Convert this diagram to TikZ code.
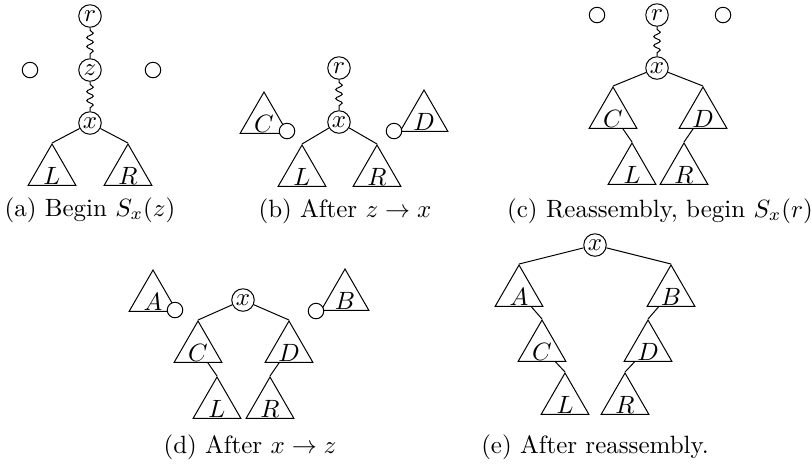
\documentclass[tikz,border=0pt]{standalone}
\usetikzlibrary{shapes.geometric,decorations.pathmorphing}
\begin{document}
\begin{tikzpicture}[x=0.4pt,y=-0.4pt,
  vnode/.style={circle, draw, minimum size=9pt, inner sep=0.3pt},
  hole/.style={circle, draw, fill=white, minimum size=6.2pt, inner sep=0pt},
  subtree/.style={regular polygon, regular polygon sides=3, draw, minimum size=22pt, inner sep=0pt,
     label={[anchor=south,inner sep=0.3pt]south:$#1$}},
  wavy/.style={decorate, decoration={snake, amplitude=1.3pt, segment length=3.6pt, pre length=1pt, post length=1pt}},
  captext/.style={anchor=base, inner sep=0pt}]
\useasboundingbox (0,0) rectangle (812,463);

% ---------- (a) ----------
\node[vnode] (ar) at (90,16) {$r$};
\node[vnode] (az) at (90,70) {$z$};
\node[hole] (ah1) at (30,70) {};
\node[hole] (ah2) at (153,70) {};
\node[vnode] (ax) at (90,123) {$x$};
\node[subtree=L] (aL) at (52,171.5) {};
\node[subtree=R] (aR) at (128,171.5) {};
\draw[wavy] (ar) -- (az);
\draw[wavy] (az) -- (ax);
\draw (ax) -- (aL.corner 1);
\draw (ax) -- (aR.corner 1);
\node[captext] (capa) at (90,216) {(a) Begin $S_x(z)$};

% ---------- (b) ----------
\node[vnode] (br) at (339,68) {$r$};
\node[vnode] (bx) at (339,122) {$x$};
\node[subtree=C] (bC) at (264,119.5) {};
\node[subtree=D] (bD) at (424,117.5) {};
\node[hole] (bhC) at (287,131) {};
\node[hole] (bhD) at (394,131) {};
\node[subtree=L] (bL) at (302,172.5) {};
\node[subtree=R] (bR) at (377,172.5) {};
\draw[wavy] (br) -- (bx);
\draw (bx) -- (bL.corner 1);
\draw (bx) -- (bR.corner 1);
\node[captext] (capb) at (345,217) {(b) After $z \to x$};

% ---------- (c) ----------
\node[hole] (ch1) at (597,15) {};
\node[vnode] (cr) at (657,15) {$r$};
\node[hole] (ch2) at (723,15) {};
\node[vnode] (cx) at (657,68) {$x$};
\node[subtree=C] (cC) at (613,114.5) {};
\node[subtree=D] (cD) at (703,114.5) {};
\node[subtree=L] (cL) at (632,170.5) {};
\node[subtree=R] (cR) at (684,170.5) {};
\draw[wavy] (cr) -- (cx);
\draw (cx) -- (cC.corner 1);
\draw (cx) -- (cD.corner 1);
\draw (cC) -- (cL.corner 1);
\draw (cD) -- (cR.corner 1);
\node[captext] (capc) at (660,217) {(c) Reassembly, begin $S_x(r)$};

% ---------- (d) ----------
\node[subtree=A] (dA) at (153,297.5) {};
\node[hole] (dhA) at (175,310) {};
\node[vnode] (dx) at (243,300) {$x$};
\node[subtree=B] (dB) at (345,296.5) {};
\node[hole] (dhB) at (316,311) {};
\node[subtree=C] (dC) at (198,348.5) {};
\node[subtree=D] (dD) at (289,348.5) {};
\node[subtree=L] (dL) at (217,404.5) {};
\node[subtree=R] (dR) at (270,404.5) {};
\draw (dx) -- (dC.corner 1);
\draw (dx) -- (dD.corner 1);
\draw (dC) -- (dL.corner 1);
\draw (dD) -- (dR.corner 1);
\node[captext] (capd) at (250,453) {(d) After $x \to z$};

% ---------- (e) ----------
\node[vnode] (ex) at (595,245) {$x$};
\node[subtree=A] (eA) at (519,292.5) {};
\node[subtree=B] (eB) at (671,292.5) {};
\node[subtree=C] (eC) at (542,347.5) {};
\node[subtree=D] (eD) at (648,347.5) {};
\node[subtree=L] (eL) at (565,400.5) {};
\node[subtree=R] (eR) at (625,400.5) {};
\draw (ex) -- (eA.corner 1);
\draw (ex) -- (eB.corner 1);
\draw (eA) -- (eC.corner 1);
\draw (eC) -- (eL.corner 1);
\draw (eB) -- (eD.corner 1);
\draw (eD) -- (eR.corner 1);
\node[captext] (cape) at (595,453) {(e) After reassembly.};
\end{tikzpicture}
\end{document}
